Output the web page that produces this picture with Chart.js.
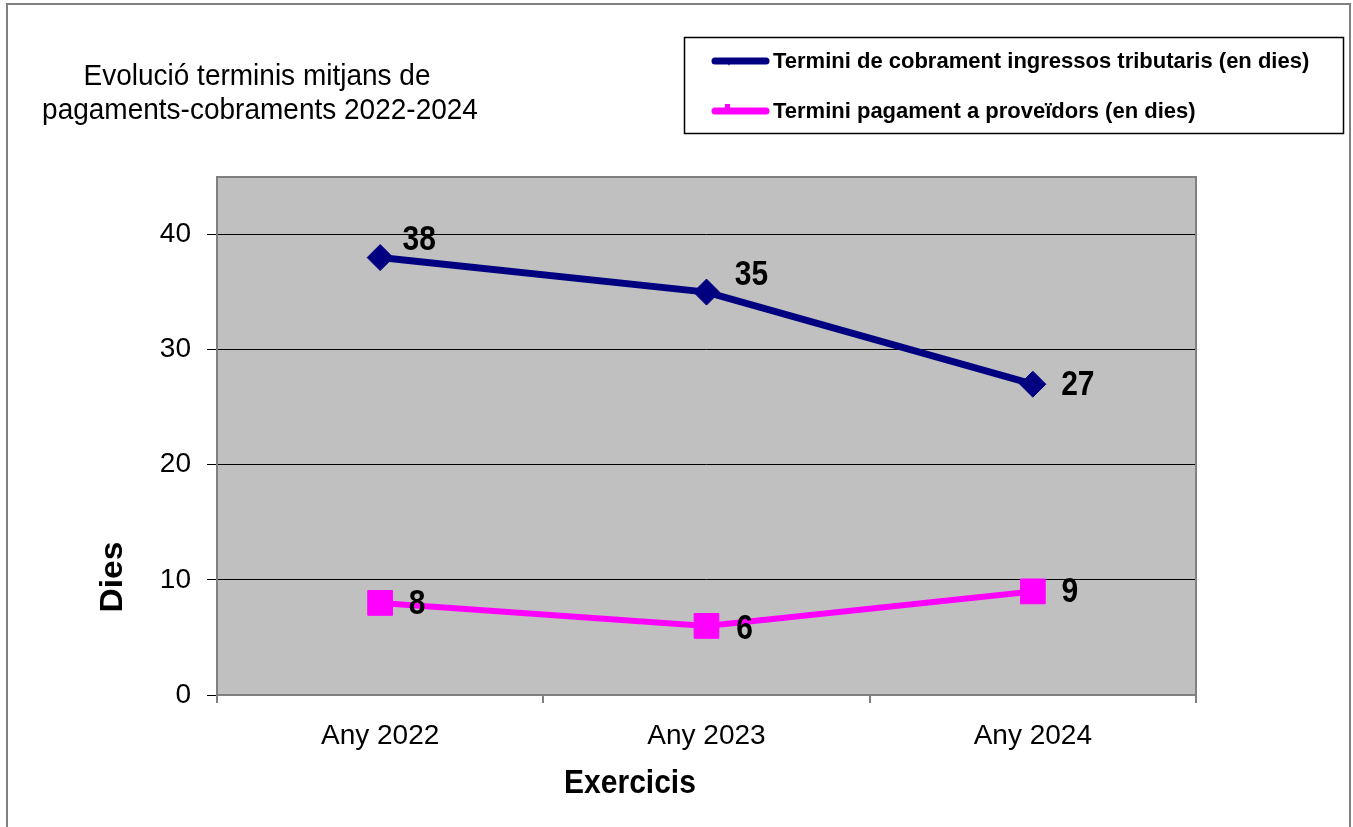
<!DOCTYPE html>
<html><head><meta charset="utf-8">
<script src="https://cdn.jsdelivr.net/npm/chart.js@4/dist/chart.umd.min.js"></script>
<style>html,body{margin:0;padding:0;background:#fff;}#wrap{width:1353px;height:827px;position:relative;}</style>
</head><body><div id="wrap"><canvas id="c" width="1353" height="827"></canvas></div>
<script>
const categories = ['Any 2022', 'Any 2023', 'Any 2024'];
const seriesNames = ['Termini de cobrament ingressos tributaris (en dies)', 'Termini pagament a proveïdors (en dies)'];
const cobrament = [38, 35, 27];
const pagament = [8, 6, 9];
const yTicks = [0, 10, 20, 30, 40];
const titleLines = ['Evolució terminis mitjans de', 'pagaments-cobraments 2022-2024'];
const xTitle = 'Exercicis';
const yTitle = 'Dies';

const FONT = '"Liberation Sans", Arial, sans-serif';
// label offsets (styling, px)
const labelOffsets = [[[39,-17],[45,-17],[45,1]], [[37,2],[38,4],[37,1]]];

function stretchedText(ctx, text, x, y, sy) {
  ctx.save();
  ctx.translate(x, y);
  ctx.scale(1, sy);
  ctx.fillText(text, 0, 0);
  ctx.restore();
}

const decor = {
  id: 'decor',
  beforeDraw(chart) {
    const {ctx, chartArea: a} = chart;
    ctx.save();
    ctx.fillStyle = '#C0C0C0';
    ctx.fillRect(a.left, a.top, a.right - a.left, a.bottom - a.top);
    // outer frame
    ctx.strokeStyle = '#808080';
    ctx.lineWidth = 2;
    ctx.beginPath();
    ctx.moveTo(7, 827); ctx.lineTo(7, 4); ctx.lineTo(1350, 4); ctx.lineTo(1350, 827);
    ctx.stroke();
    // title
    ctx.fillStyle = '#000';
    ctx.font = '28px ' + FONT;
    ctx.textAlign = 'center';
    ctx.textBaseline = 'middle';
    stretchedText(ctx, titleLines[0], 257, 77, 1.08);
    stretchedText(ctx, titleLines[1], 260, 111, 1.08);
    // axis titles
    ctx.font = 'bold 30px ' + FONT;
    stretchedText(ctx, xTitle, 630, 784, 1.08);
    ctx.save();
    ctx.translate(113, 577);
    ctx.rotate(-Math.PI / 2);
    ctx.scale(1.12, 1.05);
    ctx.fillText(yTitle, 0, 0);
    ctx.restore();
    // legend box
    ctx.strokeStyle = '#000';
    ctx.lineWidth = 1.5;
    ctx.strokeRect(684.5, 37.5, 659, 96);
    const ds = chart.data.datasets;
    const rows = [61, 111];
    ds.forEach((d, i) => {
      const y = rows[i];
      ctx.strokeStyle = d.borderColor;
      ctx.lineWidth = 7;
      ctx.lineCap = 'round';
      ctx.beginPath(); ctx.moveTo(715, y); ctx.lineTo(766, y); ctx.stroke();
      ctx.fillStyle = d.borderColor;
      if (i === 0) {
        ctx.beginPath(); ctx.moveTo(727, y); ctx.lineTo(729, y-2); ctx.lineTo(731, y); ctx.lineTo(729, y+5); ctx.closePath(); ctx.fill();
      } else {
        ctx.fillRect(725, y - 7, 5, 10);
      }
      ctx.fillStyle = '#000';
      ctx.font = 'bold 22px ' + FONT;
      ctx.textAlign = 'left';
      ctx.textBaseline = 'middle';
      ctx.fillText(d.label, 773, y + 1);
    });
    ctx.restore();
  },
  beforeDatasetsDraw(chart) {
    const {ctx, chartArea: a} = chart;
    ctx.save();
    ctx.strokeStyle = '#808080';
    ctx.lineWidth = 2;
    ctx.strokeRect(a.left, a.top, a.right - a.left, a.bottom - a.top);
    ctx.restore();
  },
  afterDatasetsDraw(chart) {
    const {ctx} = chart;
    ctx.save();
    ctx.fillStyle = '#000';
    ctx.font = 'bold 30px ' + FONT;
    ctx.textAlign = 'center';
    ctx.textBaseline = 'middle';
    chart.data.datasets.forEach((d, i) => {
      chart.getDatasetMeta(i).data.forEach((p, j) => {
        const o = labelOffsets[i][j];
        stretchedText(ctx, String(d.data[j]), p.x + o[0], p.y + o[1], 1.15);
      });
    });
    ctx.restore();
  }
};

new Chart(document.getElementById('c'), {
  type: 'line',
  data: {
    labels: categories,
    datasets: [
      { label: seriesNames[0], data: cobrament, borderColor: '#000080', backgroundColor: '#000080',
        borderWidth: 7, pointStyle: 'rectRot', pointRadius: 13, pointBorderWidth: 1, pointHoverRadius: 13 },
      { label: seriesNames[1], data: pagament, borderColor: '#FF00FF', backgroundColor: '#FF00FF',
        borderWidth: 6, pointStyle: 'rect', pointRadius: 17.5, pointBorderWidth: 1, pointHoverRadius: 17.5 }
    ]
  },
  options: {
    responsive: false,
    animation: false,
    events: [],
    layout: { padding: { left: 0, top: 177, right: 157, bottom: 0 } },
    plugins: { legend: { display: false }, title: { display: false }, tooltip: { enabled: false } },
    scales: {
      x: {
        offset: true,
        afterFit(s) { s.height = 132; },
        grid: { display: true, offset: true, drawOnChartArea: false, drawTicks: true, tickLength: 8, color: '#808080', lineWidth: 2 },
        border: { display: false },
        ticks: { color: '#000', font: { family: FONT, size: 28 }, padding: 16 }
      },
      y: {
        min: 0, max: 45,
        afterFit(s) { s.width = 217; },
        afterBuildTicks(s) { s.ticks = yTicks.map(v => ({ value: v })); },
        grid: { color: '#000', lineWidth: 1, tickLength: 10, drawTicks: true },
        border: { display: false },
        ticks: { color: '#000', font: { family: FONT, size: 28 }, padding: 16 }
      }
    }
  },
  plugins: [decor]
});
</script>
</body></html>
